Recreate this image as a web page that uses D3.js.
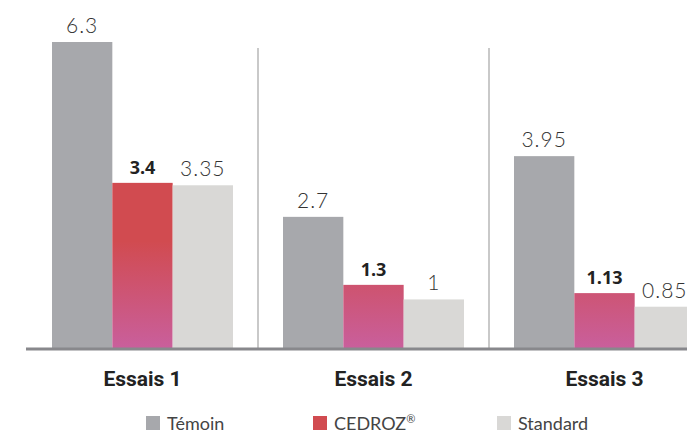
<!DOCTYPE html>
<html>
<head>
<meta charset="utf-8">
<script src="https://cdn.jsdelivr.net/npm/d3@7"></script>
<style>
  body { margin: 0; background: #fff; }
  svg { display: block; }
</style>
</head>
<body>
<script>
const groups = ["Essais 1", "Essais 2", "Essais 3"]
const series = ["Témoin", "CEDROZ®", "Standard"]
const temoin = [6.3, 2.7, 3.95]
const cedroz = [3.4, 1.3, 1.13]
const standard = [3.35, 1, 0.85]
const valueLabels = [["6.3", "3.4", "3.35"], ["2.7", "1.3", "1"], ["3.95", "1.13", "0.85"]]

const svgWidth = 687
const svgHeight = 433
const baseY = 348

const colors = { "Témoin": "#a7a8ac", "CEDROZ®": "#d14b50", "Standard": "#d9d8d6" }

const svg = d3.select("body").append("svg")
  .attr("width", svgWidth)
  .attr("height", svgHeight)

const x = d3.scaleBand()
  .domain(groups)
  .range([52, 695])
  .paddingInner(50 / 231)
  .paddingOuter(0)

const xs = d3.scaleBand()
  .domain(series)
  .range([0, x.bandwidth()])

const y = d3.scaleLinear()
  .domain([0, 6.3])
  .range([baseY, 42])

// gradient for the CEDROZ bars, fixed in page space
const grad = svg.append("defs").append("linearGradient")
  .attr("id", "cedrozGrad")
  .attr("gradientUnits", "userSpaceOnUse")
  .attr("x1", 0).attr("x2", 0)
  .attr("y1", y(2.2)).attr("y2", y(0))
grad.append("stop").attr("offset", "0%").attr("stop-color", "#d14b50")
grad.append("stop").attr("offset", "100%").attr("stop-color", "#c95f9c")

const data = groups.map((g, i) => ({
  group: g,
  values: [
    { key: "Témoin", value: temoin[i], label: valueLabels[i][0] },
    { key: "CEDROZ®", value: cedroz[i], label: valueLabels[i][1] },
    { key: "Standard", value: standard[i], label: valueLabels[i][2] }
  ]
}))

// dividers between groups
const step = x.step()
svg.selectAll("line.divider")
  .data(groups.slice(1))
  .enter()
  .append("line")
  .attr("class", "divider")
  .attr("x1", d => x(d) - (step - x.bandwidth()) / 2)
  .attr("x2", d => x(d) - (step - x.bandwidth()) / 2)
  .attr("y1", 48)
  .attr("y2", baseY)
  .attr("stroke", "#c9c9c9")
  .attr("stroke-width", 2)

const groupG = svg.selectAll("g.group")
  .data(data)
  .enter()
  .append("g")
  .attr("class", "group")
  .attr("transform", d => `translate(${x(d.group)}, 0)`)

groupG.selectAll("rect")
  .data(d => d.values)
  .enter()
  .append("rect")
  .attr("x", d => xs(d.key))
  .attr("y", d => y(d.value))
  .attr("width", xs.bandwidth())
  .attr("height", d => baseY - y(d.value))
  .attr("fill", d => d.key === "CEDROZ®" ? "url(#cedrozGrad)" : colors[d.key])

groupG.selectAll("text.val")
  .data(d => d.values)
  .enter()
  .append("text")
  .attr("class", "val")
  .attr("x", d => xs(d.key) + xs.bandwidth() / 2)
  .attr("y", d => y(d.value) - 9)
  .attr("text-anchor", "middle")
  .attr("font-family", d => d.key === "CEDROZ®" ? "'Open Sans', sans-serif" : "Lato, sans-serif")
  .attr("font-size", d => d.key === "CEDROZ®" ? "18px" : "21px")
  .attr("font-weight", d => d.key === "CEDROZ®" ? 700 : 300)
  .attr("letter-spacing", d => d.key === "CEDROZ®" ? "0px" : "1px")
  .attr("fill", d => d.key === "CEDROZ®" ? "#222" : "#333")
  .text(d => d.label)

// baseline
svg.append("line")
  .attr("x1", 26)
  .attr("x2", svgWidth)
  .attr("y1", baseY + 1)
  .attr("y2", baseY + 1)
  .attr("stroke", "#88888c")
  .attr("stroke-width", 3)

// category labels
const xAxis = d3.axisBottom(x).tickSize(0).tickPadding(0)
const axisG = svg.append("g")
  .attr("transform", `translate(0, ${baseY + 23})`)
  .call(xAxis)
axisG.select(".domain").remove()
axisG.selectAll("text")
  .attr("font-family", "Roboto, sans-serif")
  .attr("font-size", "21px")
  .attr("font-weight", 700)
  .attr("fill", "#222")
  .attr("dy", "0.71em")

// legend
const legendX = [146, 313, 497]
const legend = svg.selectAll("g.legend")
  .data(series)
  .enter()
  .append("g")
  .attr("class", "legend")
  .attr("transform", (d, i) => `translate(${legendX[i]}, 416)`)

legend.append("rect")
  .attr("width", 14)
  .attr("height", 14)
  .attr("fill", d => colors[d])

const legendText = legend.append("text")
  .attr("x", 21)
  .attr("y", 14)
  .attr("font-family", "Lato, sans-serif")
  .attr("font-size", "18px")
  .attr("font-weight", 400)
  .attr("fill", "#444")

legendText.append("tspan").text(d => d.replace("®", ""))
legendText.filter(d => d.includes("®"))
  .append("tspan")
  .attr("font-size", "11px")
  .attr("dy", "-7")
  .text("®")
</script>
</body>
</html>
